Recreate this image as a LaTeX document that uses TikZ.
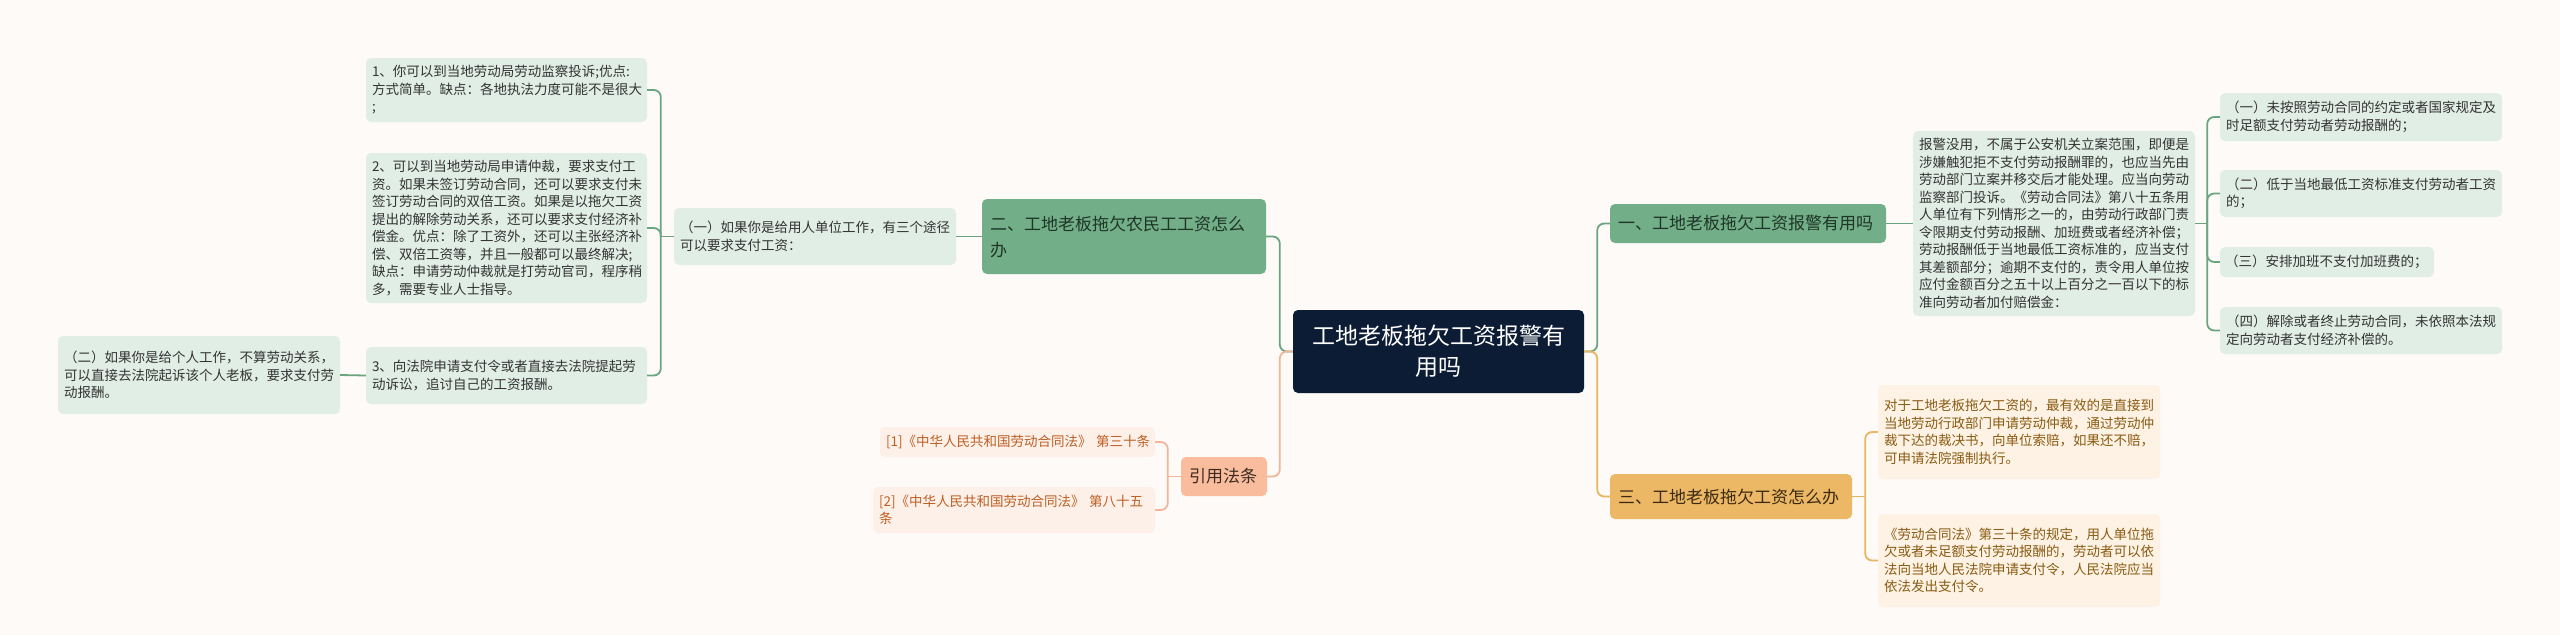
\documentclass[tikz,border=0pt]{standalone}
\usepackage{fontspec}
\setmainfont{Noto Sans CJK SC}
\definecolor{bgc}{HTML}{FDFAF8}
\definecolor{rootfill}{HTML}{0C1C34}
\definecolor{gline}{HTML}{6AA57F}
\definecolor{gbfill}{HTML}{72AE87}
\definecolor{gbtext}{HTML}{1F3527}
\definecolor{glfill}{HTML}{E1EEE6}
\definecolor{gltext}{HTML}{333333}
\definecolor{oline}{HTML}{E8B560}
\definecolor{obfill}{HTML}{ECB866}
\definecolor{obtext}{HTML}{3B2A12}
\definecolor{olfill}{HTML}{FDF2E3}
\definecolor{oltext}{HTML}{8A5B13}
\definecolor{sline}{HTML}{F2B697}
\definecolor{sbfill}{HTML}{F9BD9D}
\definecolor{sbtext}{HTML}{3D2B22}
\definecolor{slfill}{HTML}{FDF0E8}
\definecolor{sltext}{HTML}{BD5F25}
\tikzset{
  box/.style={rounded corners=5pt, inner ysep=0pt, align=left, anchor=center},
  rootbox/.style={box, align=center, fill=rootfill, text=white, inner xsep=10.5pt, font=\fontsize{23}{31}\selectfont},
  branchfont/.style={font=\fontsize{17}{26}\selectfont},
  leaffont/.style={font=\fontsize{13.5}{17.5}\selectfont},
  gbranch/.style={box, branchfont, fill=gbfill, text=gbtext, inner xsep=8pt},
  obranch/.style={box, branchfont, fill=obfill, text=obtext, inner xsep=8pt},
  sbranch/.style={box, branchfont, fill=sbfill, text=sbtext, inner xsep=8pt},
  gleaf/.style={box, leaffont, fill=glfill, text=gltext, inner xsep=6pt},
  oleaf/.style={box, leaffont, fill=olfill, text=oltext, inner xsep=6pt},
  sleaf/.style={box, leaffont, fill=slfill, text=sltext, inner xsep=6pt},
  conn/.style={line width=1.8pt, rounded corners=7pt},
  gconn/.style={conn, draw=gline},
  oconn/.style={conn, draw=oline},
  sconn/.style={conn, draw=sline}
}
\begin{document}
\begin{tikzpicture}[x=1pt,y=-1pt]
\fill[bgc] (0,0) rectangle (2560,635);
\useasboundingbox (0,0) rectangle (2560,635);

% root
\node[rootbox, text width=270pt, minimum height=83pt] (root) at (1438.5,351.5) {工地老板拖欠工资报警有\\用吗};

% branches
\node[gbranch, text width=260pt, minimum height=39pt] (b1) at (1748,223.5) {一、工地老板拖欠工资报警有用吗};
\node[gbranch, text width=268pt, minimum height=75pt] (b2) at (1124,236.5) {二、工地老板拖欠农民工工资怎么\\办};
\node[obranch, text width=226pt, minimum height=45pt] (b3) at (1731,496.5) {三、工地老板拖欠工资怎么办};
\node[sbranch, text width=70pt, minimum height=39pt] (b4) at (1224,476.5) {引用法条};

% left green
\node[gleaf, text width=270pt, minimum height=57pt] (la) at (815,236.5) {（一）如果你是给用人单位工作，有三个途径\\可以要求支付工资：};
\node[gleaf, text width=269pt, minimum height=64pt] (g1) at (506.5,90) {1、你可以到当地劳动局劳动监察投诉;优点:\\方式简单。缺点：各地执法力度可能不是很大\\;};
\node[gleaf, text width=269pt, minimum height=150pt] (g2) at (506.5,228) {2、可以到当地劳动局申请仲裁，要求支付工\\资。如果未签订劳动合同，还可以要求支付未\\签订劳动合同的双倍工资。如果是以拖欠工资\\提出的解除劳动关系，还可以要求支付经济补\\偿金。优点：除了工资外，还可以主张经济补\\偿、双倍工资等，并且一般都可以最终解决;\\缺点：申请劳动仲裁就是打劳动官司，程序稍\\多，需要专业人士指导。};
\node[gleaf, text width=269pt, minimum height=57pt] (g3) at (506.5,375.5) {3、向法院申请支付令或者直接去法院提起劳\\动诉讼，追讨自己的工资报酬。};
\node[gleaf, text width=270pt, minimum height=78pt] (g4) at (199,375) {（二）如果你是给个人工作，不算劳动关系，\\可以直接去法院起诉该个人老板，要求支付劳\\动报酬。};

% right green
\node[gleaf, text width=270pt, minimum height=185pt] (r0) at (2054,223.5) {报警没用，不属于公安机关立案范围，即便是\\涉嫌触犯拒不支付劳动报酬罪的，也应当先由\\劳动部门立案并移交后才能处理。应当向劳动\\监察部门投诉。《劳动合同法》第八十五条用\\人单位有下列情形之一的，由劳动行政部门责\\令限期支付劳动报酬、加班费或者经济补偿；\\劳动报酬低于当地最低工资标准的，应当支付\\其差额部分；逾期不支付的，责令用人单位按\\应付金额百分之五十以上百分之一百以下的标\\准向劳动者加付赔偿金：};
\node[gleaf, text width=270pt, minimum height=48pt] (r1) at (2361,117) {（一）未按照劳动合同的约定或者国家规定及\\时足额支付劳动者劳动报酬的；};
\node[gleaf, text width=270pt, minimum height=47pt] (r2) at (2361,193.5) {（二）低于当地最低工资标准支付劳动者工资\\的；};
\node[gleaf, text width=204pt, minimum height=30pt, inner xsep=5pt] (r3) at (2327,262) {（三）安排加班不支付加班费的；};
\node[gleaf, text width=270pt, minimum height=47pt] (r4) at (2361,330.5) {（四）解除或者终止劳动合同，未依照本法规\\定向劳动者支付经济补偿的。};

% orange leaves
\node[oleaf, text width=270pt, minimum height=94pt] (o1) at (2019,432) {对于工地老板拖欠工资的，最有效的是直接到\\当地劳动行政部门申请劳动仲裁，通过劳动仲\\裁下达的裁决书，向单位索赔，如果还不赔，\\可申请法院强制执行。};
\node[oleaf, text width=270pt, minimum height=93pt] (o2) at (2019,560.5) {《劳动合同法》第三十条的规定，用人单位拖\\欠或者未足额支付劳动报酬的，劳动者可以依\\法向当地人民法院申请支付令，人民法院应当\\依法发出支付令。};

% salmon leaves
\node[sleaf, text width=263pt, minimum height=30pt, align=right] (s1) at (1017.5,442) {\mbox{[1]《中华人民共和国劳动合同法》 第三十条}};
\node[sleaf, text width=270pt, minimum height=46pt] (s2) at (1014,510) {[2]《中华人民共和国劳动合同法》~第八十五\\条};

% spine coordinates
\path (root.west) ++(-13,0) coordinate (rl);
\path (root.east) ++(13,0) coordinate (rr);
\path (la.west) ++(-13,0) coordinate (lasp);
\path (r0.east) ++(12,0) coordinate (r0sp);
\path (b3.east) ++(13,0) coordinate (b3sp);
\path (b4.west) ++(-13,0) coordinate (b4sp);

% root connectors
\draw[gconn] (root.west) -- (rl) |- (b2.east);
\draw[sconn] (root.west) -- (rl) |- (b4.east);
\draw[gconn] (root.east) -- (rr) |- (b1.west);
\draw[oconn] (root.east) -- (rr) |- (b3.west);

% green left
\draw[gconn] (b2.west) -- (la.east);
\draw[gconn] (la.west) -- (lasp);
\draw[gconn] (lasp) |- (g1.east);
\draw[gconn] (lasp) |- (g2.east);
\draw[gconn] (lasp) |- (g3.east);
\draw[gconn] (g3.west) -- (g4.east);

% green right
\draw[gconn] (b1.east) -- (r0.west);
\draw[gconn] (r0.east) -- (r0sp);
\draw[gconn] (r0sp) |- (r1.west);
\draw[gconn] (r0sp) |- (r2.west);
\draw[gconn] (r0sp) |- (r3.west);
\draw[gconn] (r0sp) |- (r4.west);

% orange
\draw[oconn] (b3.east) -- (b3sp);
\draw[oconn] (b3sp) |- (o1.west);
\draw[oconn] (b3sp) |- (o2.west);

% salmon
\draw[sconn] (b4.west) -- (b4sp);
\draw[sconn] (b4sp) |- (s1.east);
\draw[sconn] (b4sp) |- (s2.east);
\end{tikzpicture}
\end{document}
